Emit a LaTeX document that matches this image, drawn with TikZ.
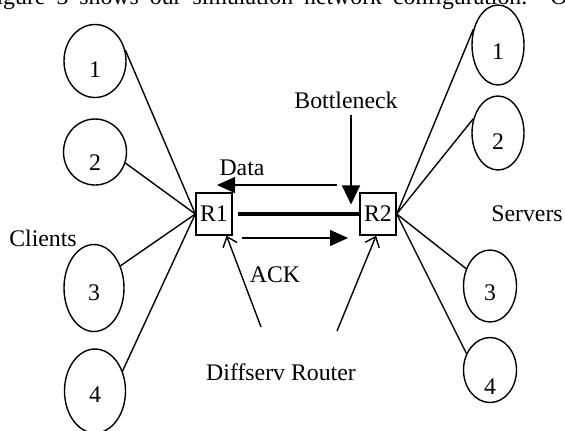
\documentclass[tikz,border=0pt]{standalone}
\usepackage{fontspec}
\setmainfont{Liberation Serif}
\usetikzlibrary{shapes.geometric,arrows.meta}

\tikzset{
  host/.style={ellipse, draw, line width=0.7pt, inner sep=0pt},
  router/.style={rectangle, draw, line width=0.7pt, inner sep=0pt,
    minimum width=18pt, minimum height=21pt},
  link/.style={line width=0.7pt},
  flow/.style={line width=0.7pt, -{Triangle[length=9pt,width=8pt]}},
  mark arrow/.style={line width=0.7pt, -{Straight Barb[length=4.5pt,width=7.5pt]}},
}

\begin{document}
\begin{tikzpicture}[x=0.5pt,y=-0.5pt,font=\fontsize{11.9}{14}\selectfont]
\useasboundingbox (0,0) rectangle (565,430);

% running text of the page, cut off at the top
\node[anchor=base west, inner sep=0pt] (pagetext) at (-17,4)
  {\makebox[302pt][s]{Figure 3 shows our simulation network configuration. Our}};

% clients
\node[host, minimum width=31pt, minimum height=36.5pt, label={[yshift=-4.5pt]center:1}] (c1) at (95,61) {};
\node[host, minimum width=31.5pt, minimum height=33pt, label={[yshift=-5.5pt]center:2}] (c2) at (95,152) {};
\node[host, minimum width=30pt, minimum height=43.5pt, label={[yshift=-2.5pt]center:3}] (c3) at (94,288) {};
\node[host, minimum width=30.5pt, minimum height=42pt, label={[yshift=-2pt]center:4}] (c4) at (95,391) {};
\node (clients) at (43,238) {Clients};

% servers
\node[host, minimum width=26pt, minimum height=40pt, label={[yshift=-3.5pt]center:1}] (s1) at (498,45) {};
\node[host, minimum width=26pt, minimum height=37pt, label={[yshift=-4.5pt]center:2}] (s2) at (498,133) {};
\node[host, minimum width=26.5pt, minimum height=36pt, label={[yshift=-3.5pt]center:3}] (s3) at (490,286) {};
\node[host, minimum width=26.5pt, minimum height=32.5pt, label={[yshift=-8.5pt]center:4}] (s4) at (490,370) {};
\node (servers) at (527,214) {Servers};

% routers
\node[router] (r1) at (214,214) {R1};
\node[router] (r2) at (378,214) {R2};

\node (data) at (242,168) {Data};
\node (bneck) at (346,100) {Bottleneck};
\node (ack) at (275,275) {ACK};
\node (diffserv) at (281,372) {Diffserv Router};

\coordinate (dataR) at (337,185);
\coordinate (dataL) at (217,185);
\coordinate (ackL) at (242,238);
\coordinate (ackR) at (348,238);
\coordinate (dsL) at (261,327);
\coordinate (dsR) at (337,331);

\draw[link] (c1.20) -- (r1.west);
\draw[link] (c2.-20) -- (r1.west);
\draw[link] (c3.40) -- (r1.west);
\draw[link] (c4.36) -- (r1.west);

\draw[link] (s1.147) -- (r2.east);
\draw[link] (s2.150) -- (r2.east);
\draw[link] (s3.144) -- (r2.east);
\draw[link] (s4.145) -- (r2.east);

% bottleneck link
\draw[line width=2pt] ([xshift=2.5pt]r1.east) -- (r2.west);

\draw[flow] (dataR) -- (dataL);
\draw[flow] (ackL) -- (ackR);
\draw[line width=0.7pt, -{Triangle[length=9.5pt,width=9pt]}] ([xshift=2.5pt]bneck.south) -- ++(0,89);

\draw[mark arrow] (dsL) -- (r1.-60);
\draw[mark arrow] (dsR) -- (r2.-95);

\end{tikzpicture}
\end{document}
